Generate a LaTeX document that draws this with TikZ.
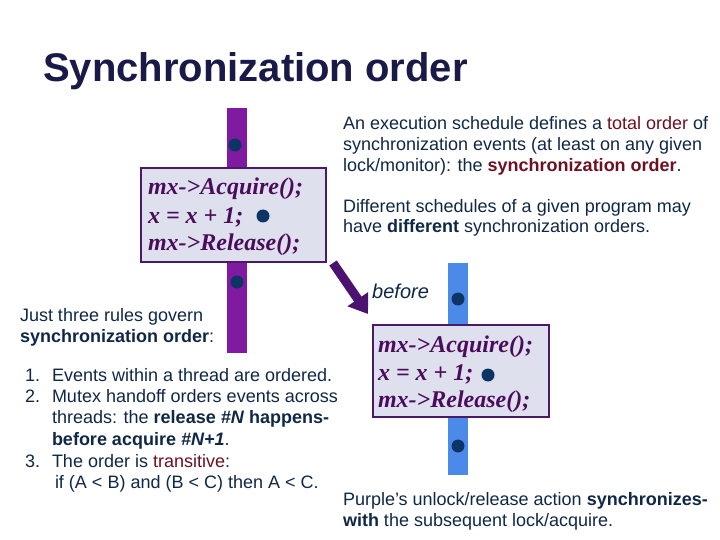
\documentclass[tikz,border=0pt]{standalone}
\usepackage{fontspec}
\setmainfont{Liberation Sans}
\newfontfamily\codefont{Liberation Serif}
\usetikzlibrary{arrows.meta}
\definecolor{txt}{RGB}{16,40,72}
\definecolor{titlec}{RGB}{26,26,72}
\definecolor{redc}{RGB}{110,16,32}
\definecolor{codec}{RGB}{75,12,92}
\definecolor{boxfill}{RGB}{222,224,238}
\definecolor{boxline}{RGB}{74,26,104}
\definecolor{purpc}{RGB}{128,26,160}
\definecolor{bluec}{RGB}{76,138,234}
\definecolor{dotc}{RGB}{12,52,100}
\definecolor{arrc}{RGB}{76,18,112}
\tikzset{
  body/.style={anchor=base west, inner sep=0pt, outer sep=0pt, text=txt, font=\fontsize{18}{21}\selectfont},
  code/.style={anchor=base west, inner sep=0pt, outer sep=0pt, text=codec, font=\codefont\bfseries\itshape\fontsize{24}{28}\selectfont},
  codebox/.style={draw=boxline, line width=2.5pt, fill=boxfill, inner sep=0pt},
  ev/.style={circle, fill=dotc, minimum size=13pt, inner sep=0pt},
  threadbar/.style={rectangle, inner sep=0pt, minimum width=20pt},
  handoff/.style={draw=arrc, line width=9pt, -{Triangle[width=24pt,length=18pt]}}
}
\begin{document}
\begin{tikzpicture}[x=1pt,y=-1pt]
\path[fill=white] (0,0) rectangle (720,540);
\useasboundingbox (0,0) rectangle (720,540);

% title
\node[anchor=base west, inner sep=0pt, text=titlec, font=\bfseries\fontsize{40}{44}\selectfont] (title) at (43,82) {Synchronization order};

% threads
\node[threadbar, fill=purpc, minimum height=245pt] (lbar) at (237,230.5) {};
\node[threadbar, fill=bluec, minimum height=212pt] (rbar) at (458,369) {};

% boxes
\node[codebox, minimum width=185pt, minimum height=94pt] (lbox) at (233.5,215) {};
\node[codebox, minimum width=176pt, minimum height=92pt] (rbox) at (461,371) {};

% code text
\node[code] (la) at (148,195) {mx->Acquire();};
\node[code] (lb) at (148,223) {x = x + 1;};
\node[code] (lc) at (148,251) {mx->Release();};
\node[code] (ra) at (378,352) {mx->Acquire();};
\node[code] (rb) at (378,380) {x = x + 1;};
\node[code] (rc) at (378,407) {mx->Release();};

% events
\node[ev] (l1) at (235,145) {};
\node[ev] (l2) at (263,216) {};
\node[ev] (l3) at (237,282) {};
\node[ev] (r1) at (458,299) {};
\node[ev] (r2) at (488,375) {};
\node[ev] (r3) at (458,446) {};

% arrow
\coordinate (arrS) at (333,263);
\coordinate (arrE) at (368,314);
\draw[handoff] (arrS) -- (arrE);
\node[anchor=base west, inner sep=0pt, text=txt, font=\itshape\fontsize{20}{24}\selectfont] (before) at (372,298) {before};

% right text
\node[body] (t1) at (343,130) {An execution schedule defines a \textcolor{redc}{total order} of};
\node[body] (t2) at (343,151) {synchronization events (at least on any given};
\node[body] (t3) at (343,172) {lock/monitor): the \textcolor{redc}{\textbf{synchronization order}}.};
\node[body] (t4) at (343,212) {Different schedules of a given program may};
\node[body] (t5) at (343,233) {have \textbf{different} synchronization orders.};

% left text
\node[body] (j1) at (20,321) {Just three rules govern};
\node[body] (j2) at (20,342) {\textbf{synchronization order}:};
\node[body] (n1) at (25,381) {1.};
\node[body] (e1) at (52,381) {Events within a thread are ordered.};
\node[body] (n2) at (25,402) {2.};
\node[body] (e2) at (52,402) {Mutex handoff orders events across};
\node[body] (e2b) at (52,423) {threads: the \textbf{release \textit{\#N} happens-}};
\node[body] (e2c) at (52,445) {\textbf{before acquire \textit{\#N+1}}.};
\node[body] (n3) at (25,467) {3.};
\node[body] (e3) at (52,467) {The order is \textcolor{redc}{transitive}:};
\node[body] (e3b) at (55,488) {if (A < B) and (B < C) then A < C.};

% bottom text
\node[body] (b1) at (343,505) {Purple’s unlock/release action \textbf{synchronizes-}};
\node[body] (b2) at (343,526) {\textbf{with} the subsequent lock/acquire.};
\end{tikzpicture}
\end{document}
